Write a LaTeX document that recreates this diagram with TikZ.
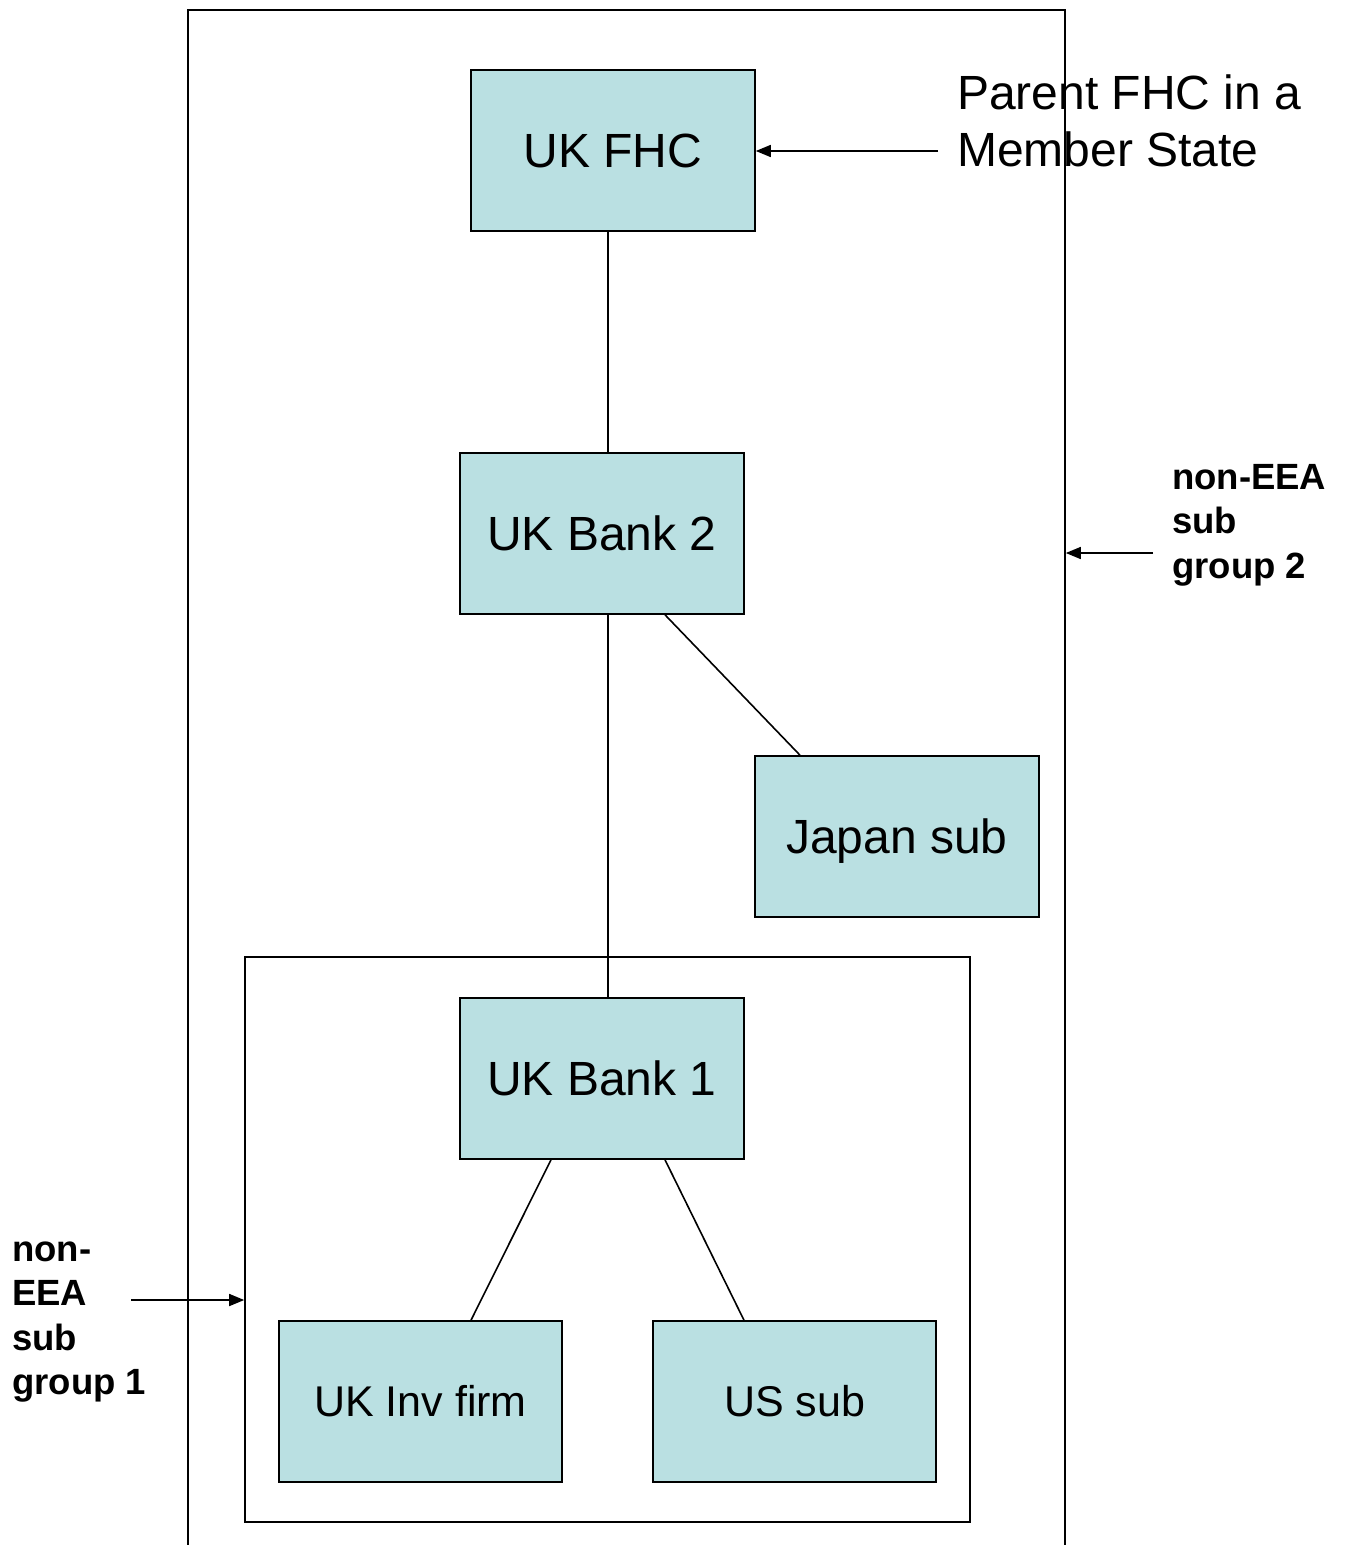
\documentclass[tikz,border=0pt]{standalone}
\usepackage{fontspec}
\setmainfont{Liberation Sans}
\usetikzlibrary{arrows.meta}
\definecolor{boxfill}{HTML}{BAE0E2}
\tikzstyle{entity}=[draw, fill=boxfill, line width=1.6pt, minimum width=284pt, minimum height=161pt, inner sep=0pt, text height=43pt, text depth=8.6pt, font=\fontsize{48}{57}\selectfont]
\tikzstyle{small entity}=[entity, minimum width=283pt, text height=38.5pt, text depth=7.7pt, font=\fontsize{43}{52}\selectfont]
\tikzstyle{group box}=[draw, line width=1.6pt, inner sep=0pt]
\tikzstyle{link}=[line width=1.6pt]
\tikzstyle{pointer}=[line width=1.6pt, -{Triangle[length=15pt, width=12pt]}]
\tikzstyle{side label}=[align=left, inner sep=0pt, font=\fontsize{36.5}{44.5}\selectfont\bfseries]

\begin{document}
\begin{tikzpicture}[x=1pt, y=-1pt]
      \clip (0, 0) rectangle (1348, 1545);
      \fill[white] (0, 0) rectangle (1348, 1545);
      % the two sub groups
      \node[group box, minimum width=877pt, minimum height=1600pt] (group2) at (626.5, 810) {};
      \node[group box, minimum width=725pt, minimum height=565pt] (group1) at (607.5, 1239.5) {};
      % entities
      \node[entity] (fhc) at (613, 150.5) {UK FHC};
      \node[entity] (bank2) at (602, 533.5) {UK Bank 2};
      \node[entity] (japan) at (897, 836.5) {Japan sub};
      \node[entity] (bank1) at (602, 1078.5) {UK Bank 1};
      \node[small entity] (invfirm) at (420.5, 1401.5) {UK Inv firm};
      \node[small entity] (ussub) at (794.5, 1401.5) {US sub};
      \draw[link] ([xshift=-5pt]fhc.south) -- ([xshift=6pt]bank2.north);
      \draw[link] ([xshift=6pt]bank2.south) -- ([xshift=6pt]bank1.north);
      \draw[link] ([xshift=63pt]bank2.south) -- ([xshift=-97pt]japan.north);
      \draw[link] ([xshift=-51pt]bank1.south) -- ([xshift=50.5pt]invfirm.north);
      \draw[link] ([xshift=63pt]bank1.south) -- ([xshift=-50.5pt]ussub.north);
      % labels
      \node[align=left, inner sep=0pt, anchor=west, font=\fontsize{48}{57}\selectfont] (parent) at (957, 121) {Parent FHC in a\\Member State};
      \node[side label, anchor=west] (label2) at (1172, 525) {non-EEA\\sub\\group 2};
      \node[side label, anchor=west] (label1) at (12, 1322) {non-\\EEA\\sub\\group 1};
      \coordinate (from parent) at (938, 151);
      \coordinate (from label2) at (1153, 553);
      \coordinate (from label1) at (131, 1300);
      \draw[pointer] (from parent) -- (from parent -| fhc.east);
      \draw[pointer] (from label2) -- (from label2 -| group2.east);
      \draw[pointer] (from label1) -- (from label1 -| group1.west);
    \end{tikzpicture}
\end{document}
